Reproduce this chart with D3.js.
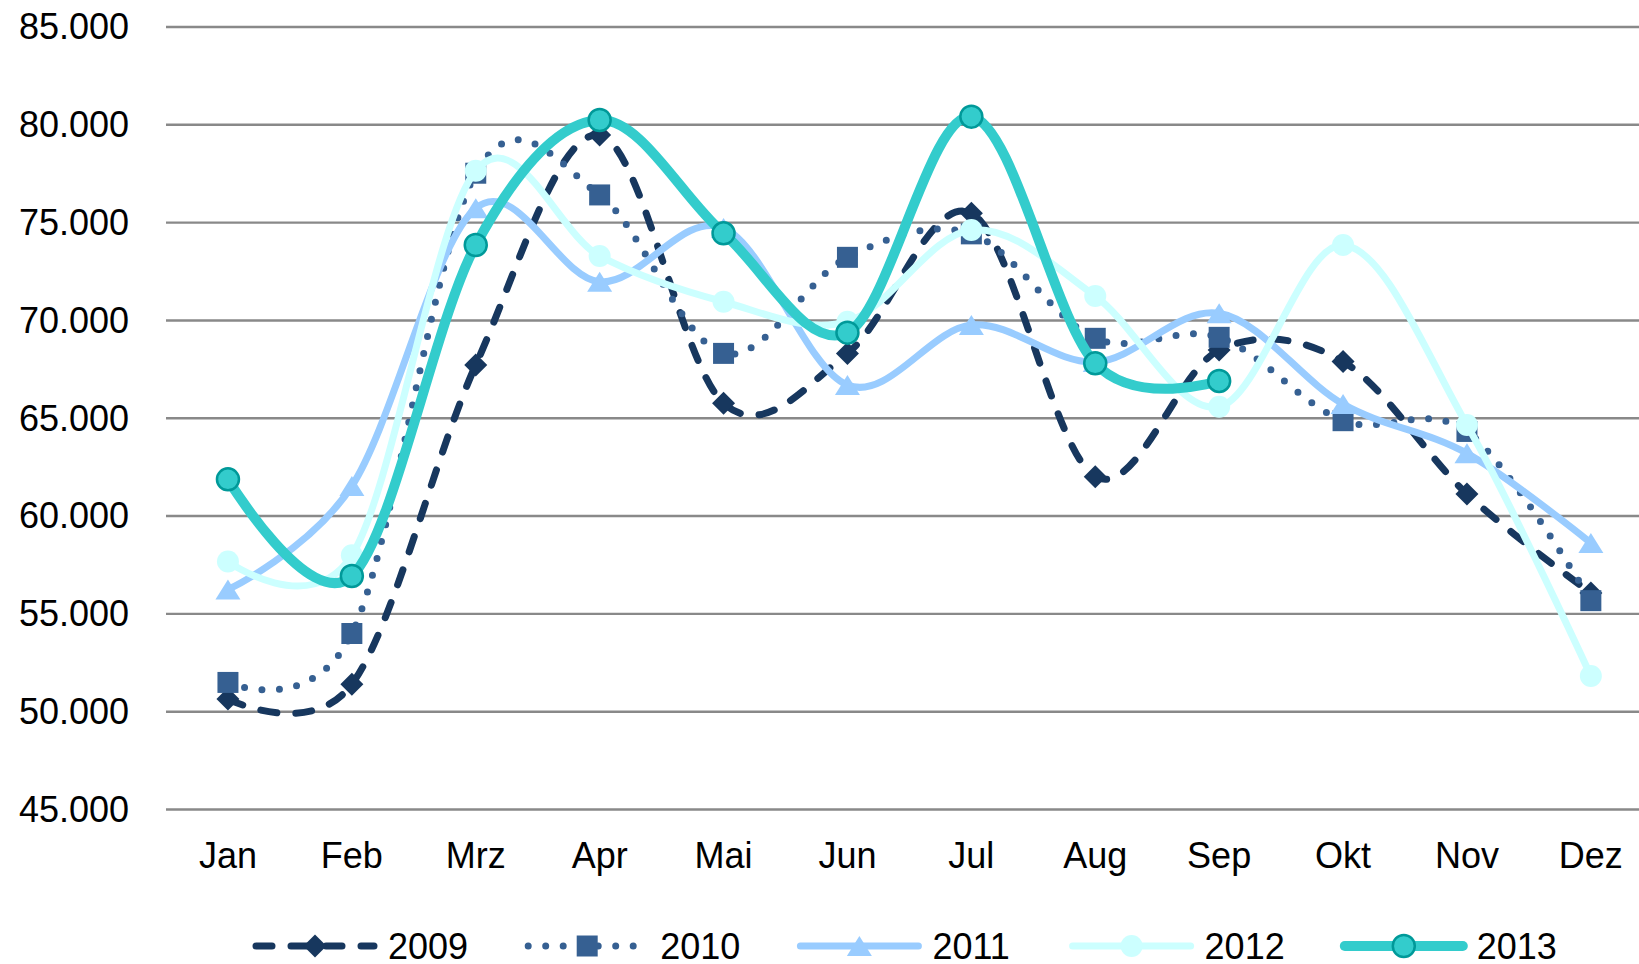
<!DOCTYPE html>
<html>
<head>
<meta charset="utf-8">
<script src="https://cdn.jsdelivr.net/npm/d3@7"></script>
<style>
  body { margin: 0; background: #fff; }
  svg { display: block; font-family: "Liberation Sans", Arial, sans-serif; }
</style>
</head>
<body>
<svg id="chart" width="1639" height="964"></svg>
<script>
var months = ["Jan", "Feb", "Mrz", "Apr", "Mai", "Jun", "Jul", "Aug", "Sep", "Okt", "Nov", "Dez"];
var years = ["2009", "2010", "2011", "2012", "2013"];
var yTicks = [45000, 50000, 55000, 60000, 65000, 70000, 75000, 80000, 85000];

var v2009 = [50620, 51380, 67700, 79450, 65740, 68290, 75450, 61990, 68460, 67870, 61100, 56040];
var v2010 = [51470, 53970, 77500, 76390, 68290, 73200, 74400, 69060, 69110, 64850, 64300, 55650];
var v2011 = [56220, 61510, 75710, 71950, 74700, 66670, 69740, 67850, 70340, 65700, 63180, 58600];
var v2012 = [57650, 57970, 77630, 73270, 70930, 69910, 74600, 71220, 65560, 73830, 64630, 51800];
var v2013 = [61850, 56910, 73830, 80220, 74430, 69350, 80390, 67780, 66880, null, null, null];

var values = [v2009, v2010, v2011, v2012, v2013];

// look of each series (line + marker)
var styles = [
    {color: "#17375e", width: 7, dash: "16 19", marker: "diamond", mfill: "#17375e", mstroke: "none"},
    {color: "#366092", width: 7, dash: "0 17.5", marker: "square", mfill: "#366092", mstroke: "none"},
    {color: "#99ccff", width: 7, dash: null, marker: "triangle", mfill: "#99ccff", mstroke: "none"},
    {color: "#ccffff", width: 7, dash: null, marker: "circle", mfill: "#ccffff", mstroke: "none"},
    {color: "#33cccc", width: 10, dash: null, marker: "circle", mfill: "#33cccc", mstroke: "#009999"}
];

var svg = d3.select("#chart");

var left = 166, band = 123.9;
var x = d3.scaleBand().domain(months).range([left, left + band * months.length]);
var y = d3.scaleLinear().domain([45000, 85000]).range([809, 26.5]);

var de = d3.formatLocale({decimal: ",", thousands: ".", grouping: [3], currency: ["", " €"]});
var fmt = de.format(",.0f");

function cx(m) { return x(m) + x.bandwidth() / 2; }

// gridlines + y labels
var yAxis = svg.append("g")
    .attr("transform", "translate(" + left + ",0)")
    .call(d3.axisLeft(y).tickValues(yTicks).tickFormat(fmt)
        .tickSize(-(1639 - left)).tickPadding(37));
yAxis.select(".domain").remove();
yAxis.selectAll(".tick line").attr("stroke", "#898989").attr("stroke-width", 2.4);
yAxis.selectAll(".tick text")
    .attr("font-size", 36)
    .attr("font-family", "Liberation Sans, Arial, sans-serif")
    .attr("fill", "#000")
    .attr("dy", "0.34em");

// month labels
svg.append("g").selectAll("text")
    .data(months)
    .enter()
    .append("text")
    .attr("x", function(d) { return cx(d); })
    .attr("y", 868)
    .attr("text-anchor", "middle")
    .attr("font-size", 36)
    .attr("fill", "#000")
    .text(function(d) { return d; });

function markerPath(type) {
    switch (type) {
        case "diamond":
            return "M0,-11.5L11.5,0L0,11.5L-11.5,0Z";
        case "square":
            return "M-10.5,-10.5H10.5V10.5H-10.5Z";
        case "triangle":
            return "M0,-10L12.5,10H-12.5Z";
        default:
            return d3.symbol().type(d3.symbolCircle).size(Math.PI * 11 * 11)();
    }
}

var line = d3.line()
    .defined(function(d) { return d.v != null; })
    .x(function(d) { return cx(d.m); })
    .y(function(d) { return y(d.v); })
    .curve(d3.curveCardinal.tension(0));

values.forEach(function(vals, i) {
    var s = styles[i];
    var pts = months.map(function(m, j) { return {m: m, v: vals[j]}; });
    var g = svg.append("g").attr("class", "series-" + years[i]);

    g.append("path")
        .datum(pts)
        .attr("d", line)
        .attr("fill", "none")
        .attr("stroke", s.color)
        .attr("stroke-width", s.width)
        .attr("stroke-dasharray", s.dash)
        .attr("stroke-linecap", "round")
        .attr("stroke-linejoin", "round");

    g.selectAll("path.mark")
        .data(pts.filter(function(d) { return d.v != null; }))
        .enter()
        .append("path")
        .attr("class", "mark")
        .attr("d", markerPath(s.marker))
        .attr("transform", function(d) { return "translate(" + cx(d.m) + "," + y(d.v) + ")"; })
        .attr("fill", s.mfill)
        .attr("stroke", s.mstroke)
        .attr("stroke-width", 2.5);
});

// legend
var legend = svg.append("g").attr("transform", "translate(0,946)");
years.forEach(function(yr, i) {
    var s = styles[i];
    var x0 = 252 + i * 272.2;
    var it = legend.append("g").attr("transform", "translate(" + x0 + ",0)");
    it.append("line")
        .attr("x1", 4).attr("x2", 122)
        .attr("y1", 0).attr("y2", 0)
        .attr("stroke", s.color)
        .attr("stroke-width", s.width)
        .attr("stroke-dasharray", s.dash)
        .attr("stroke-linecap", "round");
    it.append("path")
        .attr("d", markerPath(s.marker))
        .attr("transform", "translate(63,0)")
        .attr("fill", s.mfill)
        .attr("stroke", s.mstroke)
        .attr("stroke-width", 2.5);
    it.append("text")
        .attr("x", 136)
        .attr("y", 13)
        .attr("font-size", 36)
        .attr("fill", "#000")
        .text(yr);
});
</script>
</body>
</html>
